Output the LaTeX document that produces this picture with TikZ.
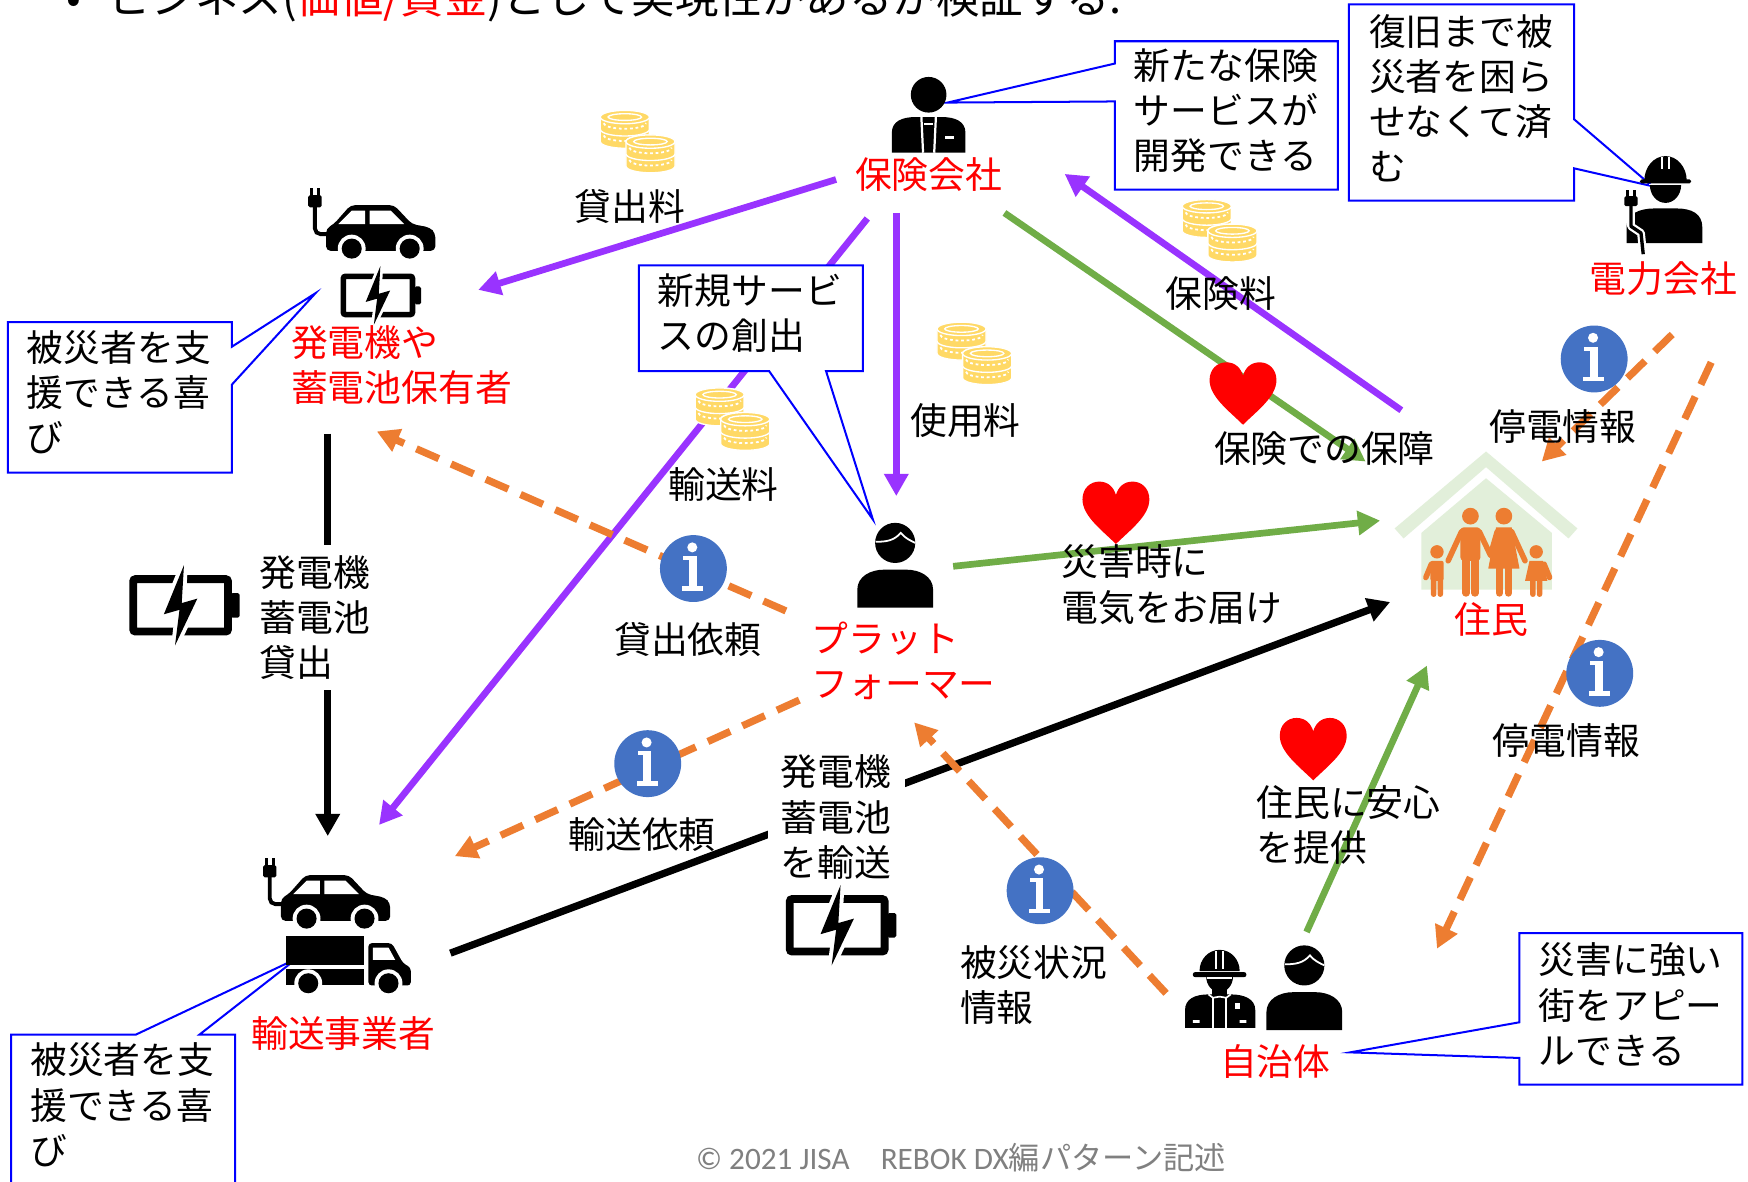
\documentclass[tikz,border=0pt]{standalone}
\usepackage{fontspec}
\setmainfont{Noto Sans CJK JP}
\newfontfamily\latinfoot{Carlito}
\usetikzlibrary{arrows.meta}

\definecolor{vio}{RGB}{153,51,255}
\definecolor{grn}{RGB}{112,173,71}
\definecolor{org}{RGB}{237,125,49}
\definecolor{infob}{RGB}{68,114,196}
\definecolor{gold}{RGB}{255,217,102}
\definecolor{housegrn}{RGB}{226,239,218}
\definecolor{callblue}{RGB}{0,0,255}
\definecolor{footgray}{RGB}{128,128,128}

% one coin seen from the side; #1,#2 = centre of its top face
\newcommand\coinpiece[2]{%
  \filldraw[fill=gold, draw=white, line width=1.2pt] (#1-22,#2) -- (#1-22,#2+11)
    arc[start angle=180,end angle=0,x radius=22,y radius=6] -- (#1+22,#2)
    arc[start angle=0,end angle=-180,x radius=22,y radius=6] -- cycle;
  \draw[white, line width=1.6pt, dash pattern=on 2.5pt off 2.5pt]
    (#1-19,#2+5.5) arc[start angle=180,end angle=0,x radius=19,y radius=5];
}
% a stack of two coins
\newcommand\coinstack[2]{%
  \coinpiece{#1}{#2+11}
  \coinpiece{#1}{#2}
  \filldraw[fill=gold, draw=white, line width=1.2pt] (#1,#2) ellipse [x radius=22, y radius=6];
  \draw[white, line width=1.2pt] (#1,#2) ellipse [x radius=15, y radius=3];
}

\tikzset{
  lbl/.style={font=\fontsize{33}{40.5}\selectfont, inner sep=0pt, align=left},
  actor/.style={lbl, text=red},
  tip/.style={-{Triangle[length=20pt,width=21pt]}},
  flowv/.style={vio, line width=6pt, tip},
  flowg/.style={grn, line width=6pt, tip},
  flowk/.style={black, line width=6.5pt, tip},
  flowo/.style={org, line width=6.5pt, dash pattern=on 22pt off 12pt, tip},
  callout/.style={draw=callblue, fill=white, line width=1.8pt, line join=miter},
  pics/batt/.style={code={
    \draw[line width=#1, rounded corners=2pt] (-42.5,-23.5) rectangle (42.5,23.5);
    \fill[rounded corners=1.5pt] (45,-11) rectangle (53,11);
    \draw[white, line width=#1, line join=round] (3,-36) -- (-15,8) -- (-1,4) -- (-5,36) -- (15,-6) -- (1,-2) -- cycle;
    \fill (3,-36) -- (-15,8) -- (-1,4) -- (-5,36) -- (15,-6) -- (1,-2) -- cycle;
  }},
  pics/evcar/.style={code={
    \fill[rounded corners=4pt] (-49,17) -- (-49,-3) -- (-42,-7) -- (-27,-24) -- (12,-24) -- (28,-7) -- (44,-4) -- (49,1) -- (49,17) -- cycle;
    \fill[white] (-38,-7) -- (-26,-19) -- (-14,-19) -- (-14,-7) -- cycle;
    \fill[white] (-10,-19) -- (9,-19) -- (21,-7) -- (-10,-7) -- cycle;
    \fill[white] (-26,15) circle (12.5) (26,15) circle (12.5);
    \fill (-26,15) circle (9) (26,15) circle (9);
    \draw[line width=3.5pt, rounded corners=5pt] (-47,2) -- (-59,2) -- (-59,-24);
    \fill[rounded corners=1.5pt] (-65,-33) rectangle (-53,-22);
    \draw[line width=2.5pt] (-62,-33) -- (-62,-39) (-56,-33) -- (-56,-39);
  }},
  pics/truck/.style={code={
    \fill (-35,-22) rectangle (35,4);
    \fill (-35,7) rectangle (35,22);
    \fill[rounded corners=3pt] (39,-16) -- (60,-16) -- (70,2) -- (77,6) -- (77,22) -- (39,22) -- cycle;
    \fill[white] (43,-12) -- (57,-12) -- (63,-1) -- (43,-1) -- cycle;
    \fill[white] (-15,20) circle (12.5) (57,20) circle (12.5);
    \fill (-15,20) circle (9) (57,20) circle (9);
  }},
  pics/person/.style={code={
    \fill (0,0) circle (18);
    \draw[white, line width=1.6pt] (-17.5,-1) .. controls (-8,-1) and (-1,-2) .. (5,-9) .. controls (9,-4) and (14,-2) .. (18,0);
    \fill (-34,58) -- (-34,42) .. controls (-34,30) and (-22,24) .. (-10,24) -- (10,24) .. controls (22,24) and (34,30) .. (34,42) -- (34,58) -- cycle;
  }},
  pics/suit/.style={code={
    \fill (0,0) circle (16);
    \fill (-33,52) -- (-33,34) .. controls (-33,24) and (-24,20) .. (-12,20) -- (12,20) .. controls (24,20) and (33,24) .. (33,34) -- (33,52) -- cycle;
    \draw[white, line width=2pt] (-6.5,20) -- (-5,52) (6.5,20) -- (5,52);
    \draw[white, line width=1.5pt] (-4,26) -- (4,26);
    \fill[white] (15,37) rectangle (23,39.5);
  }},
  pics/worker/.style={code={
    \fill (-14,-6) arc[start angle=180,end angle=0,x radius=14,y radius=16] -- cycle;
    \fill (-19,-10) arc[start angle=180,end angle=360,x radius=19,y radius=22] -- cycle;
    \fill[rounded corners=1.5pt] (-23,-11) rectangle (23,-7.5);
    \draw[white, line width=1.5pt] (-15,-6.5) -- (15,-6.5);
    \draw[white, line width=1.5pt] (-3,-31) -- (-3,-20) (3,-31) -- (3,-20);
    \fill (-35,46) -- (-35,32) .. controls (-35,20) and (-24,15) .. (-10,15) -- (10,15) .. controls (24,15) and (33,20) .. (33,32) -- (33,46) -- cycle;
    \draw[white, line width=7pt, line join=round] (-31,12) -- (-31,31) -- (-22,37) -- (-20,56);
    \draw[line width=3pt, line join=round] (-31,12) -- (-31,31) -- (-22,37) -- (-20,56);
    \fill[rounded corners=1.5pt] (-37,4) rectangle (-25,13);
    \draw[line width=2.5pt] (-34,4) -- (-34,-2) (-28,4) -- (-28,-2);
  }},
  pics/firefighter/.style={code={
    \fill (-12,-2) arc[start angle=180,end angle=0,x radius=12,y radius=14] -- cycle;
    \fill (-18,-7) arc[start angle=180,end angle=360,x radius=18,y radius=19] -- cycle;
    \fill[rounded corners=2pt] (-24,-6) rectangle (24,-1.5);
    \draw[white, line width=1.2pt] (-11,-0.6) -- (11,-0.6);
    \draw[white, line width=1.5pt] (-3,-25) -- (-3,-9) (3,-25) -- (3,-9);
    \fill (-7,9) rectangle (7,16);
    \fill (-31,44) -- (-31,28) .. controls (-31,18) and (-22,14) .. (-10,14) -- (10,14) .. controls (22,14) and (32,18) .. (32,28) -- (32,44) -- cycle;
    \draw[white, line width=1.5pt] (-6,17) -- (-6,44) (6,17) -- (6,44);
    \draw[white, line width=1.5pt] (-10,14) -- (-6,17) -- (0,16) -- (6,17) -- (10,14);
    \fill[white] (-24,37) rectangle (-18,39.5) (18,37) rectangle (24,39.5);
    \fill[white] (14,22) rectangle (18,27);
  }},
  pics/coins/.style={code={
    \coinstack{-11.5}{-22}
    \coinstack{11.5}{0}
  }},
  pics/heart/.style={code={
    \fill[red] (0,28) .. controls (-12,16) and (-30,3) .. (-30,-12) .. controls (-30,-22) and (-23,-28) .. (-15,-28)
      .. controls (-7,-28) and (-2,-23) .. (0,-16) .. controls (2,-23) and (7,-28) .. (15,-28)
      .. controls (23,-28) and (30,-22) .. (30,-12) .. controls (30,3) and (12,16) .. (0,28) -- cycle;
  }},
  pics/info/.style={code={
    \fill[infob] (0,0) circle (30);
    \fill[white] (-1,-19) circle (4.5);
    \fill[white] (-4,-11) rectangle (3,19);
    \fill[white] (-9,-11) rectangle (3,-7.5);
    \fill[white] (-10,16) rectangle (9,20);
  }},
}

\begin{document}
\begin{tikzpicture}[x=1pt,y=-1pt]
\useasboundingbox (0,0) rectangle (1568,1060);
\fill[white] (0,0) rectangle (1568,1060);

% heading line, cut by the upper edge
\node[anchor=base west, inner sep=0pt, font=\fontsize{39}{45}\selectfont] (headline) at (97,12)
  {ビジネス(\textcolor{red}{価値/資金})として実現性があるか検証する.};
\node[anchor=base, inner sep=0pt, font=\fontsize{39}{45}\selectfont] (bullet) at (66,12) {•};

% house of the residents
\fill[housegrn] (1251,474) -- (1333,405) -- (1415,474) -- (1407,483) -- (1333,419) -- (1259,483) -- cycle;
\fill[housegrn] (1275,478) -- (1333,429) -- (1392,478) -- (1392,529) -- (1275,529) -- cycle;

% connector end points
\coordinate (insW) at (750,161);   \coordinate (ownE) at (429,260);
\coordinate (insSW) at (778,196);  \coordinate (trnNE) at (340,740);
\coordinate (insS) at (804,191);   \coordinate (pltN) at (804,445);
\coordinate (resNW) at (1257,368); \coordinate (insE) at (955,156);
\coordinate (insSE) at (901,191);  \coordinate (resW) at (1225,414);
\coordinate (pltE) at (855,508);   \coordinate (resW2) at (1238,467);
\coordinate (govN) at (1172,836);  \coordinate (resS) at (1280,597);
\coordinate (ownS) at (294,389);   \coordinate (trnN) at (294,750);
\coordinate (trnE) at (404,855);   \coordinate (resSW) at (1247,540);
\coordinate (pltW) at (705,548);   \coordinate (ownSE) at (338,387);
\coordinate (pltSW) at (717,628);  \coordinate (trnNE2) at (408,768);
\coordinate (govNW) at (1046,891); \coordinate (pltSE) at (820,648);
\coordinate (pwrSW) at (1500,300); \coordinate (resNE) at (1383,414);
\coordinate (pwrS) at (1535,325);  \coordinate (govNE) at (1289,851);

% money and service flows
\draw[flowv] (insW) -- (ownE);
\draw[flowv] (insSW) -- (trnNE);
\draw[flowv] (insS) -- (pltN);
\draw[flowv] (resNW) -- (insE);
% value flows
\draw[flowg] (insSE) -- (resW);
\draw[flowg] (pltE) -- (resW2);
\draw[flowg] (govN) -- (resS);
% goods flows
\draw[flowk] (ownS) -- (trnN);
\draw[flowk] (trnE) -- (resSW);
% information flows
\draw[flowo] (pltW) -- (ownSE);
\draw[flowo] (pltSW) -- (trnNE2);
\draw[flowo] (govNW) -- (pltSE);
\draw[flowo] (pwrSW) -- (resNE);
\draw[flowo] (pwrS) -- (govNE);

% labels that sit on the goods flows
\node[lbl, fill=white, inner sep=9pt, anchor=west] (lend) at (224,554) {発電機\\蓄電池\\貸出};
\node[lbl, fill=white, inner xsep=12pt, inner ysep=6pt, align=center] (ship) at (750,733) {発電機\\蓄電池\\を輸送};

% speech balloons
\draw[callout] (1000,37) -- (1200,37) -- (1200,170) -- (1000,170) -- (1000,91) -- (850,92) -- (1000,57) -- cycle;
\draw[callout] (1210,4) -- (1412,4) -- (1412,107) -- (1482,167) -- (1412,151) -- (1412,180) -- (1210,180) -- cycle;
\draw[callout] (573,238) -- (774,238) -- (774,333) -- (741,333) -- (783,466) -- (690,333) -- (573,333) -- cycle;
\draw[callout] (7,289) -- (208,289) -- (208,311) -- (283,263) -- (208,345) -- (208,424) -- (7,424) -- cycle;
\draw[callout] (10,928) -- (122,928) -- (266,860) -- (179,928) -- (211,928) -- (211,1075) -- (10,1075) -- cycle;
\draw[callout] (1363,837) -- (1563,837) -- (1563,973) -- (1363,973) -- (1363,949) -- (1211,944) -- (1363,917) -- cycle;

\node[lbl, anchor=west] (noteA) at (1017,99.5) {新たな保険\\サービスが\\開発できる};
\node[lbl, anchor=west] (noteB) at (1228,88) {復旧まで被\\災者を困ら\\せなくて済\\む};
\node[lbl, anchor=west] (noteC) at (590,281) {新規サービ\\スの創出};
\node[lbl, anchor=west] (noteD) at (24,352) {被災者を支\\援できる喜\\び};
\node[lbl, anchor=west] (noteE) at (27,991) {被災者を支\\援できる喜\\び};
\node[lbl, anchor=west] (noteF) at (1380,901) {災害に強い\\街をアピー\\ルできる};

% actors
\pic at (833,85) {suit};
\pic at (1494,172) {worker};
\pic at (341.5,208) {evcar};
\pic[scale=0.73] at (339,265) {batt=5pt};
\pic at (162,543) {batt=7pt};
\pic at (301,809) {evcar};
\pic at (291.5,862) {truck};
\pic at (751,830) {batt=7pt};
\pic at (803,487) {person};
\pic at (1094,878) {firefighter};
\pic at (1170,866) {person};

% family in front of the house
\begin{scope}[org]
  \fill (1319,463) circle (7.5) (1349,463) circle (7.5) (1289,495) circle (6) (1378,495) circle (6);
  \fill[rounded corners=3pt] (1310,473) rectangle (1328,503);
  \fill (1342,473) -- (1356,473) -- (1363,510) -- (1335,510) -- cycle;
  \fill[rounded corners=2pt] (1283,503) rectangle (1295,521);
  \fill (1372,503) -- (1384,503) -- (1388,521) -- (1368,521) -- cycle;
  \draw[line width=6.5pt, line cap=round] (1315,500) -- (1315,532) (1323,500) -- (1323,532)
    (1345,508) -- (1345,532) (1353,508) -- (1353,532);
  \draw[line width=5pt, line cap=round] (1311,477) -- (1299,503) (1327,477) -- (1337,498)
    (1343,477) -- (1337,498) (1356,477) -- (1368,503)
    (1286,519) -- (1286,533) (1292,519) -- (1292,533) (1284,506) -- (1279,518)
    (1375,519) -- (1375,533) (1381,519) -- (1381,533) (1385,506) -- (1390,518);
\end{scope}

% money, value and information marks
\pic at (572,127) {coins};
\pic at (1094,207) {coins};
\pic at (874,317) {coins};
\pic at (657,376) {coins};
\pic at (1115,353) {heart};
\pic at (1001,460) {heart};
\pic at (1178,672) {heart};
\pic at (1430,322) {info};
\pic at (622,510) {info};
\pic at (1435,604) {info};
\pic at (581,685) {info};
\pic at (933,799) {info};

% actor names
\node[actor] (ins) at (833,157) {保険会社};
\node[actor] (pwr) at (1492,250) {電力会社};
\node[actor, anchor=west] (own) at (261,327.5) {発電機や\\蓄電池保有者};
\node[actor] (trn) at (308,927) {輸送事業者};
\node[actor, anchor=west] (plt) at (728,592.5) {プラット\\フォーマー};
\node[actor] (res) at (1338,556) {住民};
\node[actor] (gov) at (1144,952) {自治体};

% flow labels
\node[lbl] (feeLend) at (565,185) {貸出料};
\node[lbl] (feeIns) at (1095,263) {保険料};
\node[lbl] (feeUse) at (866,377) {使用料};
\node[lbl] (feeShip) at (649,435) {輸送料};
\node[lbl] (cover) at (1188,402) {保険での保障};
\node[lbl] (outage1) at (1402,383) {停電情報};
\node[lbl] (outage2) at (1405,664) {停電情報};
\node[lbl, anchor=west] (deliver) at (952,524.5) {災害時に\\電気をお届け};
\node[lbl] (reqLend) at (617,574) {貸出依頼};
\node[lbl] (reqShip) at (576,749) {輸送依頼};
\node[lbl, anchor=west] (relief) at (1127,740) {住民に安心\\を提供};
\node[lbl, anchor=west] (damage) at (861,883.5) {被災状況\\情報};

% footer
\node[inner sep=0pt, font=\fontsize{28}{32}\selectfont, text=footgray] (footer) at (862,1038)
  {{\latinfoot © 2021 JISA}　{\latinfoot REBOK DX}編パターン記述};
\end{tikzpicture}
\end{document}
